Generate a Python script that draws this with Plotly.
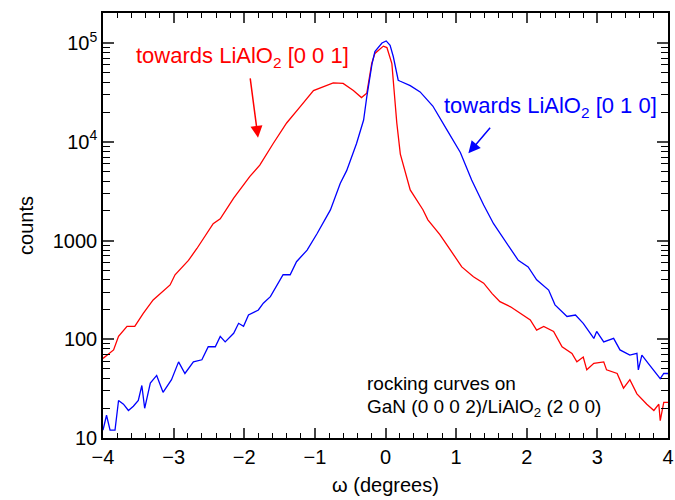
import plotly.graph_objects as go

# ---- data ----
red_x = [-4.0, -3.85, -3.78, -3.66, -3.55, -3.43, -3.29, -3.19, -3.05, -2.98, -2.79, -2.67, -2.44, -2.34,
         -2.15, -1.92, -1.78, -1.59, -1.40, -1.21, -1.02, -0.74, -0.60, -0.455, -0.34, -0.265, -0.195,
         -0.15, -0.03, 0.02, 0.09, 0.16, 0.21, 0.35, 0.53, 0.6, 0.77, 0.92, 1.08, 1.245, 1.39, 1.51,
         1.62, 1.77, 1.91, 2.05, 2.14, 2.24, 2.38, 2.50, 2.64, 2.71, 2.80, 2.85, 2.95, 3.09, 3.13,
         3.28, 3.37, 3.46, 3.56, 3.70, 3.80, 3.87, 3.89, 3.94, 4.0]
red_y = [64, 78, 107, 135, 135, 183, 250, 290, 355, 450, 630, 830, 1480, 1660,
         2690, 4470, 5800, 9600, 15500, 22600, 33000, 39500, 39000, 33000, 28000, 31000, 62000,
         78500, 93000, 90000, 62000, 15500, 7500, 3250, 2050, 1620, 1150, 800, 540, 430, 370, 290,
         240, 213, 183, 157, 124, 135, 120, 84, 72, 59, 66, 49, 57, 59, 49,
         45, 32, 39, 28, 22, 19, 22, 15, 23, 23]

blue_x = [-4.0, -3.95, -3.90, -3.83, -3.78, -3.71, -3.64, -3.57, -3.50, -3.45, -3.41, -3.33, -3.24,
          -3.15, -3.03, -2.93, -2.84, -2.72, -2.60, -2.51, -2.41, -2.34, -2.27, -2.15, -2.08, -2.01,
          -1.94, -1.80, -1.73, -1.63, -1.45, -1.35, -1.26, -1.11, -0.97, -0.78, -0.64, -0.55, -0.41,
          -0.31, -0.265, -0.19, -0.15, -0.05, 0.01, 0.065, 0.11, 0.18, 0.21, 0.35, 0.49, 0.67, 0.87,
          1.06, 1.22, 1.39, 1.53, 1.72, 1.88, 2.02, 2.14, 2.31, 2.40, 2.57, 2.69, 2.80, 2.95, 2.99,
          3.09, 3.23, 3.32, 3.46, 3.56, 3.58, 3.63, 3.72, 3.89, 3.94, 4.0]
blue_y = [12, 17, 12, 12, 24, 22, 19, 21, 24, 34, 20, 36, 43,
          29, 39, 59, 45, 59, 62, 84, 84, 107, 94, 115, 145, 135,
          176, 198, 232, 270, 450, 450, 610, 800, 1170, 2040, 3800, 5100, 9600,
          16600, 28500, 62000, 82000, 100000, 105000, 95000, 73000, 42000, 41000, 37000, 32000, 23000, 13200,
          7800, 4100, 2290, 1480, 930, 630, 540, 400, 315, 223, 170, 176, 145, 102, 120,
          94, 102, 78, 69, 72, 49, 69, 57, 40, 45, 45]

x_ticks = [-4, -3, -2, -1, 0, 1, 2, 3, 4]
y_ticks = [10, 100, 1000, 10000, 100000]
y_ticktext = ["10", "100", "1000", "10<sup>4</sup>", "10<sup>5</sup>"]

red = "#ff0000"
blue = "#0000ff"
font_family = "Liberation Sans, Arial, sans-serif"

fig = go.Figure()
fig.add_trace(go.Scatter(x=red_x, y=red_y, mode="lines", line=dict(color=red, width=1.3), showlegend=False))
fig.add_trace(go.Scatter(x=blue_x, y=blue_y, mode="lines", line=dict(color=blue, width=1.3), showlegend=False))

y_minor = [m * 10 ** e for e in range(1, 6) for m in range(2, 10)]
x_minor = [round(-4 + 0.2 * i, 2) for i in range(41)]

fig.update_layout(
    width=675, height=500,
    margin=dict(l=103, r=7, t=13, b=62),
    paper_bgcolor="white", plot_bgcolor="white",
    font=dict(family=font_family, color="black", size=18),
    xaxis=dict(range=[-4, 4], tickmode="array", tickvals=x_ticks, ticks="inside", ticklen=10,
               tickwidth=1.5, showline=True, linewidth=1.5, linecolor="black", mirror="ticks",
               showgrid=False, zeroline=False, tickfont=dict(size=20), automargin=False,
               minor=dict(tickmode="array", tickvals=x_minor, ticks="inside", ticklen=5, tickwidth=1.2,
                          tickcolor="black", showgrid=False),
               title=dict(text="ω (degrees)", font=dict(size=20), standoff=11)),
    yaxis=dict(type="log", range=[1, 5.304], tickmode="array", tickvals=y_ticks, ticktext=y_ticktext,
               ticks="inside", ticklen=11, tickwidth=1.5, showline=True, linewidth=1.5, linecolor="black",
               mirror="ticks", showgrid=False, zeroline=False, tickfont=dict(size=20), automargin=False,
               minor=dict(tickmode="array", tickvals=y_minor, ticks="inside", ticklen=7, tickwidth=1.2,
                          tickcolor="black", showgrid=False),
               title=dict(text="counts", font=dict(size=20), standoff=14)),
)

# text labels
fig.add_annotation(x=-2.03, y=4.86, xref="x", yref="y", showarrow=False,
                   text="towards LiAlO<sub>2</sub> [0 0 1]", font=dict(color=red, size=22))
fig.add_annotation(x=2.34, y=4.35, xref="x", yref="y", showarrow=False,
                   text="towards LiAlO<sub>2</sub> [0 1 0]", font=dict(color=blue, size=22))
fig.add_annotation(x=-0.289, y=1.557, xref="x", yref="y", showarrow=False, xanchor="left",
                   text="rocking curves on", font=dict(color="black", size=19))
fig.add_annotation(x=-0.289, y=1.30, xref="x", yref="y", showarrow=False, xanchor="left",
                   text="GaN (0 0 0 2)/LiAlO<sub>2</sub> (2 0 0)", font=dict(color="black", size=19))

# arrows
fig.add_annotation(x=-1.805, y=4.04, xref="x", yref="y", text="", showarrow=True,
                   ax=-8, ay=-61, arrowhead=2, arrowsize=1.6, arrowwidth=1.5, arrowcolor=red)
fig.add_annotation(x=1.174, y=3.883, xref="x", yref="y", text="", showarrow=True,
                   ax=23, ay=-27, arrowhead=2, arrowsize=1.6, arrowwidth=1.5, arrowcolor=blue)

fig.write_html("out.html", config={"displayModeBar": False},
               post_script="document.body.style.margin='0px';document.body.style.overflow='hidden';")
